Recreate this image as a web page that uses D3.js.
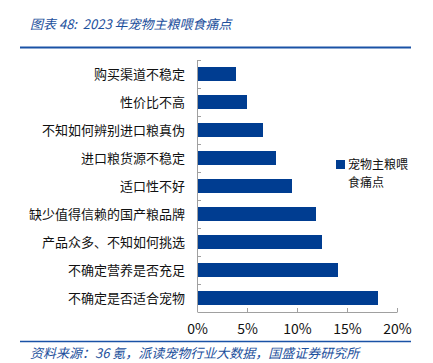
<!DOCTYPE html>
<html>
<head>
<meta charset="utf-8">
<script src="https://cdn.jsdelivr.net/npm/d3@7"></script>
<style>
  body { margin: 0; background: #fff; }
  svg text { font-family: "Noto Sans CJK SC", "Noto Sans", sans-serif; }
</style>
</head>
<body>
<div id="graf"></div>
<script>
// Datos
const categorias = [
  '购买渠道不稳定',
  '性价比不高',
  '不知如何辨别进口粮真伪',
  '进口粮货源不稳定',
  '适口性不好',
  '缺少值得信赖的国产粮品牌',
  '产品众多、不知如何挑选',
  '不确定营养是否充足',
  '不确定是否适合宠物'
]
const valores = [3.9, 5.0, 6.6, 7.9, 9.5, 11.9, 12.5, 14.1, 18.1]
const ticksX = [0, 5, 10, 15, 20]
const titulo = '图表 48:  2023 年宠物主粮喂食痛点'
const fuente = '资料来源：36 氪，派读宠物行业大数据，国盛证券研究所'
const leyenda = ['宠物主粮喂', '食痛点']

const data = categorias.map((c, i) => ({ cat: c, val: valores[i] }))

// Dimensiones
const anchoTotal = 433
const altoTotal = 363
const margins = { top: 60, right: 36, bottom: 51, left: 197 }
const ancho = anchoTotal - margins.left - margins.right
const alto = altoTotal - margins.top - margins.bottom

const azul = '#003d91'
const azulTexto = '#1c4f9c'

const svg = d3.select('#graf').append('svg')
  .attr('width', anchoTotal)
  .attr('height', altoTotal)

// Titulo
svg.append('text')
  .attr('x', 30)
  .attr('y', 29)
  .attr('fill', azulTexto)
  .attr('font-size', 13)
  .attr('font-style', 'italic')
  .style('white-space', 'pre')
  .text(titulo)

svg.append('line')
  .attr('x1', 20).attr('x2', 411)
  .attr('y1', 47.5).attr('y2', 47.5)
  .attr('stroke', '#1a52a6')
  .attr('stroke-width', 2)

const g = svg.append('g')
  .attr('transform', `translate(${margins.left}, ${margins.top})`)

// Escaladores
const x = d3.scaleLinear().domain([0, 20]).range([0, ancho])
const y = d3.scaleBand()
  .domain(categorias)
  .range([0, alto])
  .paddingInner(0.5)
  .paddingOuter(0.25)

// Barras
g.selectAll('rect.bar')
  .data(data)
  .enter()
  .append('rect')
  .attr('class', 'bar')
  .attr('x', x(0))
  .attr('y', (d) => y(d.cat))
  .attr('width', (d) => x(d.val) - x(0))
  .attr('height', y.bandwidth())
  .attr('fill', azul)

// Ejes
const xAxis = d3.axisBottom(x)
  .tickValues(ticksX)
  .tickSizeInner(-4)
  .tickSizeOuter(0)
  .tickPadding(12)
  .tickFormat((d) => d + '%')

const xAxisGroup = g.append('g')
  .attr('transform', `translate(0, ${alto})`)
  .call(xAxis)

xAxisGroup.select('.domain').attr('stroke', '#a0a0a0')
xAxisGroup.selectAll('.tick line').attr('stroke', '#a0a0a0')
xAxisGroup.selectAll('text')
  .attr('font-size', 14)
  .attr('fill', '#111')
  .attr('font-family', '"Liberation Sans", Arial, sans-serif')

// Eje Y con marcas en los límites de categoría
const yAxisGroup = g.append('g')
yAxisGroup.append('line')
  .attr('x1', 0.5).attr('x2', 0.5)
  .attr('y1', 0).attr('y2', alto)
  .attr('stroke', '#a0a0a0')

const paso = alto / categorias.length
yAxisGroup.selectAll('line.tk')
  .data(d3.range(categorias.length))
  .enter()
  .append('line')
  .attr('class', 'tk')
  .attr('x1', 0).attr('x2', 4)
  .attr('y1', (i) => Math.round(i * paso) + 0.5)
  .attr('y2', (i) => Math.round(i * paso) + 0.5)
  .attr('stroke', '#a0a0a0')

yAxisGroup.selectAll('text')
  .data(categorias)
  .enter()
  .append('text')
  .attr('x', -12)
  .attr('y', (d) => y(d) + y.bandwidth() / 2)
  .attr('dy', '0.35em')
  .attr('text-anchor', 'end')
  .attr('font-size', 13)
  .attr('fill', '#111')
  .text((d) => d)

// Leyenda
const ley = svg.append('g').attr('transform', 'translate(336, 160)')
ley.append('rect')
  .attr('width', 9).attr('height', 9)
  .attr('fill', azul)
ley.selectAll('text')
  .data(leyenda)
  .enter()
  .append('text')
  .attr('x', 12)
  .attr('y', (d, i) => 4.5 + i * 18)
  .attr('dy', '0.35em')
  .attr('font-size', 12)
  .attr('fill', '#111')
  .text((d) => d)

// Linea inferior y fuente
svg.append('line')
  .attr('x1', 20).attr('x2', 411)
  .attr('y1', 341.5).attr('y2', 341.5)
  .attr('stroke', '#1a52a6')
  .attr('stroke-width', 1.5)

svg.append('text')
  .attr('x', 30)
  .attr('y', 358)
  .attr('fill', azulTexto)
  .attr('font-size', 13)
  .attr('font-style', 'italic')
  .text(fuente)
</script>
</body>
</html>
